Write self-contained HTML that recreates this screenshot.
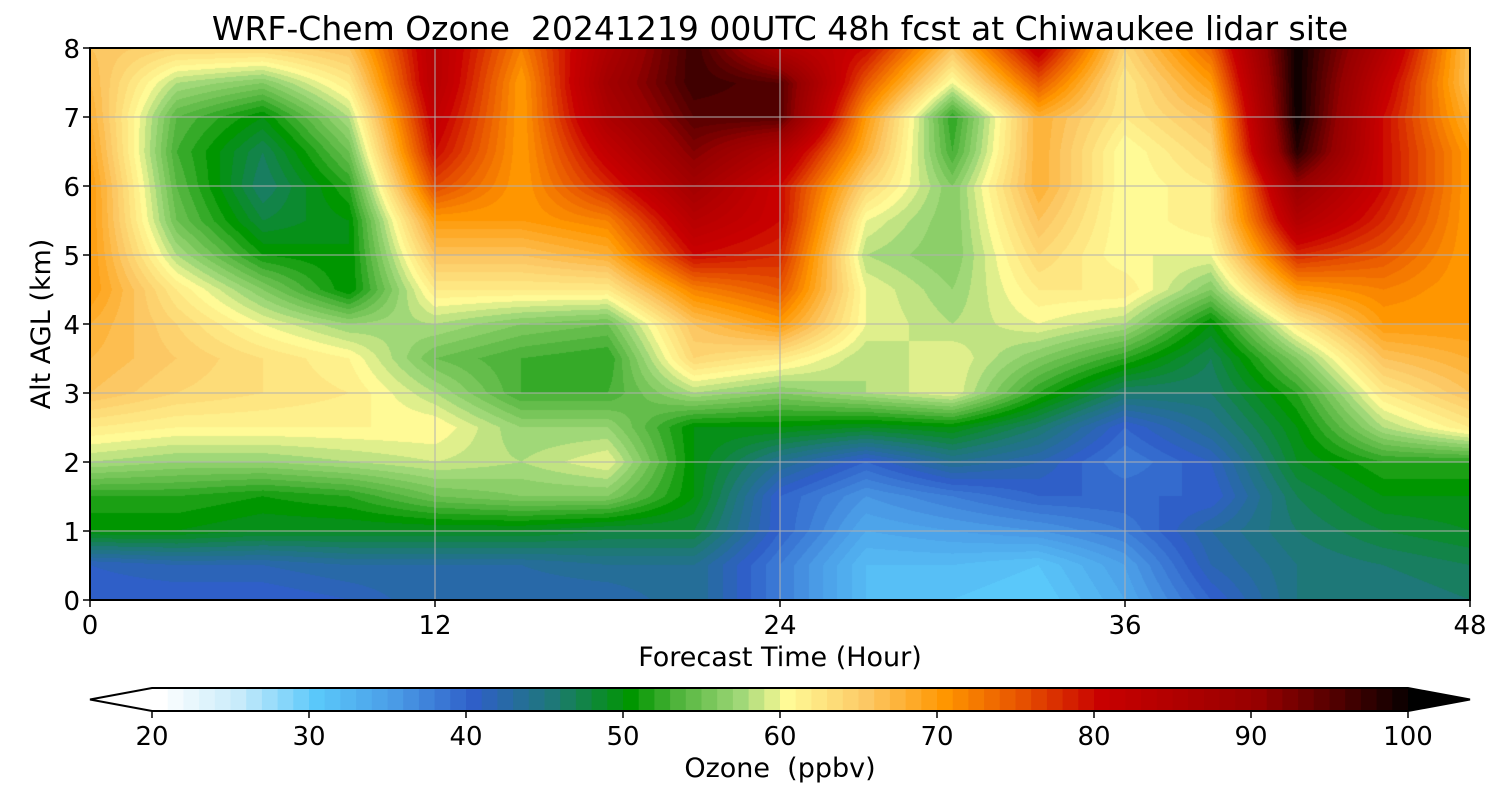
<!DOCTYPE html>
<html><head><meta charset="utf-8"><style>
body{margin:0;background:#fff;width:1500px;height:800px;overflow:hidden;font-family:"DejaVu Sans","Liberation Sans",sans-serif;}
</style></head><body>
<svg id="svg" width="1500" height="800" xmlns="http://www.w3.org/2000/svg" style="position:absolute;left:0;top:0;font-family:'DejaVu Sans','Liberation Sans',sans-serif">
<text x="780" y="40" font-size="33" text-anchor="middle" xml:space="preserve">WRF-Chem Ozone  20241219 00UTC 48h fcst at Chiwaukee lidar site</text>
<foreignObject x="90" y="48" width="1380" height="552"><canvas id="cv" width="1380" height="552" xmlns="http://www.w3.org/1999/xhtml" style="display:block"></canvas></foreignObject>
<g id="grid"></g>
<rect x="90" y="48" width="1380" height="552" fill="none" stroke="#000" stroke-width="2"/>
<g id="xt"></g>
<g id="yt"></g>
<text x="780" y="666" font-size="27" text-anchor="middle">Forecast Time (Hour)</text>
<text x="50" y="324" font-size="27" text-anchor="middle" transform="rotate(-90 50 324)">Alt AGL (km)</text>
<g id="cb"></g>
<text x="780" y="777" font-size="27" text-anchor="middle" xml:space="preserve">Ozone  (ppbv)</text>
</svg>
<script>
const hours=[0,3,6,9,12,15,18,21,24,27,30,33,36,39,42,45,48];
const alts=[0,0.5,1,1.5,2,2.5,3,3.5,4,4.5,5,5.5,6,6.5,7,7.5,8];
// ozone[hourIndex][altIndex]
const oz0=[40,41,50,52,58,62,66,67,68,70,70,70,70,69,68,67,66];
const oz3=[40,42,50,52,57,61,64,65,64,62,58,55,54,53,54,58,64];
const oz6=[40,42,49,51,57,61,63,63,60,56,51,48,46,47,50,56,64];
const oz9=[41,43,49,52,58,61,62,61,57,50,50,50,52,55,58,62,66];
const oz12=[43,43,49,55,59,61,58,55,58,62,66,70,76,80,82,84,84];
const oz15=[42,43,49,56,58,57,53,53,56,62,66,70,70,70,70,70,72];
const oz18=[42,44,48,56,60,57,53,52,55,62,68,72,78,82,86,88,86];
const oz21=[44,44,48,50,50,50,58,64,66,72,80,84,88,92,95,97,97];
const oz24=[38,38,40,40,44,50,56,62,70,75,78,80,80,85,95,95,85];
const oz27=[32,32,34,36,40,49,58,58,60,60,58,60,64,68,70,75,80];
const oz30=[31,32,35,38,44,50,60,60,58,57,56,56,56,53,52,60,66];
const oz33=[30,31,36,40,42,46,52,56,60,62,64,66,68,68,68,75,82];
const oz36=[34,35,38,40,38,40,46,52,58,62,60,60,60,60,62,62,64];
const oz39=[40,42,43,40,41,44,46,47,50,56,60,62,62,64,66,70,74];
const oz42=[45,45,46,47,49,50,52,56,62,70,78,85,90,98,100,100,100];
const oz45=[45,46,48,50,52,58,62,66,70,72,75,78,80,80,80,82,85];
const oz48=[46,47,49,50,52,62,66,68,70,70,70,70,70,70,68,66,66];
const ozone=[oz0,oz3,oz6,oz9,oz12,oz15,oz18,oz21,oz24,oz27,oz30,oz33,oz36,oz39,oz42,oz45,oz48];
const xTicks=[0,12,24,36,48];
const yTicks=[0,1,2,3,4,5,6,7,8];
const cbTicks=[20,30,40,50,60,70,80,90,100];

const X0=90,X1=1470,Y0=600,Y1=48;
const xs=h=>X0+(h-0)/48*(X1-X0);
const ys=a=>Y0-(a/8)*(Y0-Y1);
const stops=[[20,'#ffffff'],[25,'#c8ebfa'],[30,'#5ac8fa'],[35,'#4a9be6'],[40,'#2f5fc8'],[45,'#1e7878'],[50,'#009600'],[53,'#50b43c'],[57,'#a0d878'],[60,'#fffa96'],[65,'#fcc864'],[70,'#ff9600'],[75,'#e65000'],[80,'#c80000'],[90,'#960000'],[95,'#500000'],[100,'#000000']];
function hex(c){return [1,3,5].map(i=>parseInt(c.substr(i,2),16));}
function cmap(v){
  v=Math.max(20,Math.min(100,v));
  for(let i=0;i<stops.length-1;i++){
    if(v<=stops[i+1][0]){const a=hex(stops[i][1]),b=hex(stops[i+1][1]);const t=(v-stops[i][0])/(stops[i+1][0]-stops[i][0]);
      return a.map((x,k)=>Math.round(x+(b[k]-x)*t));}
  }
  return [0,0,0];
}
function interp(h,a){
  let i=Math.min(hours.length-2,Math.floor(h/3)),j=Math.min(alts.length-2,Math.floor(a/0.5));
  const th=(h-hours[i])/(hours[i+1]-hours[i]),ta=(a-alts[j])/(alts[j+1]-alts[j]);
  const v00=ozone[i][j],v10=ozone[i+1][j],v01=ozone[i][j+1],v11=ozone[i+1][j+1];
  return v00*(1-th)*(1-ta)+v10*th*(1-ta)+v01*(1-th)*ta+v11*th*ta;
}
const cv=document.getElementById('cv');


const ctx=cv.getContext('2d');const img=ctx.createImageData(1380,552);
for(let py=0;py<552;py++){for(let px=0;px<1380;px++){
  const h=px/1379*48,a=(551-py)/551*8;
  const v=Math.floor(interp(h,a));const c=cmap(v);const o=(py*1380+px)*4;
  img.data[o]=c[0];img.data[o+1]=c[1];img.data[o+2]=c[2];img.data[o+3]=255;}}
ctx.putImageData(img,0,0);
const NS='http://www.w3.org/2000/svg';
function mk(tag,at,parent,txt){const e=document.createElementNS(NS,tag);for(const k in at)e.setAttribute(k,at[k]);if(txt!==undefined)e.textContent=txt;parent.appendChild(e);return e;}
const grid=document.getElementById('grid'),xt=document.getElementById('xt'),yt=document.getElementById('yt'),cb=document.getElementById('cb');
xTicks.forEach(t=>{
  const l=mk('line',{x1:xs(t),x2:xs(t),y1:Y1,y2:Y0,stroke:'#b0b0b0','stroke-width':1},grid);
  
  
  const k=mk('line',{x1:xs(t),x2:xs(t),y1:Y0,y2:Y0+7,stroke:'#000','stroke-width':1.5},xt);
  
  
  const s=mk('text',{x:xs(t),y:Y0+34,'font-size':26,'text-anchor':'middle'},xt,String(t));
  
  
});
yTicks.forEach(t=>{
  const l=mk('line',{x1:X0,x2:X1,y1:ys(t),y2:ys(t),stroke:'#b0b0b0','stroke-width':1},grid);
  
  
  const k=mk('line',{x1:X0-7,x2:X0,y1:ys(t),y2:ys(t),stroke:'#000','stroke-width':1.5},yt);
  
  
  const s=mk('text',{x:X0-10,y:ys(t)+10,'font-size':26,'text-anchor':'end'},yt,String(t));
  
  
});
const C0=152,C1=1408,CT=688,CB=711;
const cx=v=>C0+(v-20)/80*(C1-C0);
for(let v=20;v<100;v++){const c=cmap(v);
  const r=mk('rect',{x:cx(v),y:CT,width:cx(v+1)-cx(v)+0.6,height:CB-CT,fill:`rgb(${c})`},cb);
  
  }
const lt=mk('polygon',{points:`${C0},${CT} ${C0},${CB} 90,${(CT+CB)/2}`,fill:'#fff',stroke:'none'},cb);


const rt=mk('polygon',{points:`${C1},${CT} ${C1},${CB} 1470,${(CT+CB)/2}`,fill:'#000'},cb);


const ol=mk('polygon',{points:`90,${(CT+CB)/2} ${C0},${CT} ${C1},${CT} 1470,${(CT+CB)/2} ${C1},${CB} ${C0},${CB}`,fill:'none',stroke:'#000','stroke-width':2},cb);


cbTicks.forEach(t=>{
  const k=mk('line',{x1:cx(t),x2:cx(t),y1:CB,y2:CB+7,stroke:'#000','stroke-width':1.5},cb);
  
  
  const s=mk('text',{x:cx(t),y:CB+34,'font-size':26,'text-anchor':'middle'},cb,String(t));
  
  
});
</script>
</body></html>
